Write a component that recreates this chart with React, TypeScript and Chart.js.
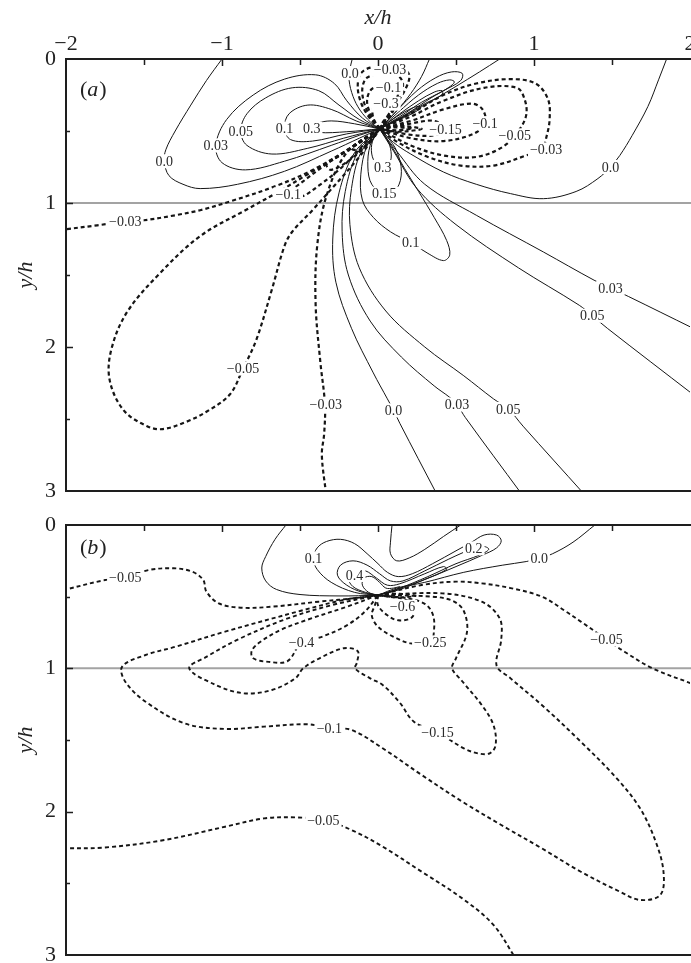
import React, { useEffect, useRef } from "react";
import { Chart, registerables } from "chart.js";

Chart.register(...registerables);

type Pt = [number, number];
type Lab = [string, number, number];

const FONT = '"Liberation Serif", "Times New Roman", Times, serif';
const M = "\u2212";

// ---------- axes ----------
const X_MIN = -2;
const X_MAX = 2;
const Y_MIN = 0;
const Y_MAX = 3;
const X_TICK_MARKS = [-1.5, -1, -0.5, 0, 0.5, 1, 1.5];
const Y_TICK_MARKS = [0.5, 1, 1.5, 2, 2.5];
const WALL_Y = 1;

// ---------- panel (a) contours  [x/h, y/h] ----------
const A_ZERO_TOP: Pt[] = [[0.01, 0.485], [-0.05, 0.436], [-0.115, 0.355], [-0.16, 0.26], [-0.185, 0.15], [-0.18, 0.07], [-0.165, 0.0]];
const A_ZERO_LEFT: Pt[] = [[-1.0, 0.0], [-1.1, 0.15], [-1.2, 0.32], [-1.3, 0.5], [-1.36, 0.63], [-1.37, 0.71], [-1.34, 0.81], [-1.25, 0.87], [-1.14, 0.9], [-0.9, 0.87], [-0.6, 0.78], [-0.3, 0.64], [-0.12, 0.55], [0.01, 0.485]];
const A_P003_L: Pt[] = [[0.01, 0.485], [-0.1, 0.41], [-0.2, 0.29], [-0.28, 0.17], [-0.4, 0.11], [-0.6, 0.14], [-0.8, 0.25], [-0.97, 0.42], [-1.04, 0.6], [-1.0, 0.72], [-0.85, 0.77], [-0.6, 0.71], [-0.3, 0.6], [-0.12, 0.53], [0.01, 0.485]];
const A_P005_L: Pt[] = [[0.01, 0.485], [-0.12, 0.42], [-0.25, 0.32], [-0.38, 0.22], [-0.55, 0.2], [-0.72, 0.27], [-0.84, 0.38], [-0.88, 0.5], [-0.84, 0.6], [-0.68, 0.66], [-0.45, 0.62], [-0.22, 0.55], [0.01, 0.485]];
const A_P01_L: Pt[] = [[0.01, 0.485], [-0.14, 0.43], [-0.3, 0.35], [-0.45, 0.32], [-0.57, 0.38], [-0.6, 0.483], [-0.56, 0.56], [-0.42, 0.57], [-0.2, 0.52], [0.01, 0.485]];
const A_P03_L: Pt[] = [[0.01, 0.485], [-0.15, 0.45], [-0.3, 0.43], [-0.4, 0.45], [-0.425, 0.483], [-0.38, 0.51], [-0.2, 0.505], [0.01, 0.485]];

const A_N003_T: Pt[] = [[0.01, 0.485], [-0.06, 0.4], [-0.11, 0.3], [-0.13, 0.19], [-0.11, 0.1], [-0.05, 0.06], [0.05, 0.05], [0.15, 0.06], [0.2, 0.11], [0.18, 0.2], [0.12, 0.31], [0.06, 0.42], [0.01, 0.485]];
const A_N005_T: Pt[] = [[0.01, 0.485], [-0.05, 0.4], [-0.09, 0.3], [-0.1, 0.2], [-0.07, 0.13], [0.03, 0.1], [0.12, 0.11], [0.16, 0.17], [0.14, 0.26], [0.09, 0.36], [0.03, 0.44], [0.01, 0.485]];
const A_N01_T: Pt[] = [[0.01, 0.485], [-0.04, 0.4], [-0.07, 0.3], [-0.05, 0.22], [0.0, 0.19], [0.11, 0.19], [0.13, 0.23], [0.11, 0.3], [0.06, 0.4], [0.01, 0.485]];
const A_N03_T: Pt[] = [[0.01, 0.485], [-0.03, 0.41], [-0.03, 0.34], [0.02, 0.31], [0.09, 0.31], [0.1, 0.35], [0.06, 0.42], [0.01, 0.485]];

const A_ZERO_UR1: Pt[] = [[0.33, 0.0], [0.28, 0.12], [0.21, 0.24], [0.12, 0.36], [0.01, 0.485]];
const A_ZERO_UR2: Pt[] = [[0.78, 0.0], [0.65, 0.09], [0.5, 0.19], [0.33, 0.3], [0.15, 0.41], [0.01, 0.485]];
const A_P003_UR: Pt[] = [[0.01, 0.485], [0.12, 0.36], [0.25, 0.22], [0.37, 0.13], [0.47, 0.09], [0.54, 0.1], [0.53, 0.15], [0.42, 0.22], [0.28, 0.3], [0.14, 0.4], [0.01, 0.485]];
const A_P005_UR: Pt[] = [[0.01, 0.485], [0.13, 0.37], [0.26, 0.25], [0.38, 0.17], [0.46, 0.145], [0.49, 0.16], [0.45, 0.2], [0.34, 0.27], [0.2, 0.37], [0.01, 0.485]];
const A_P01_UR: Pt[] = [[0.01, 0.485], [0.14, 0.38], [0.26, 0.29], [0.36, 0.23], [0.41, 0.22], [0.41, 0.25], [0.3, 0.31], [0.16, 0.4], [0.01, 0.485]];
const A_P03_UR: Pt[] = [[0.01, 0.485], [0.12, 0.4], [0.22, 0.34], [0.27, 0.33], [0.25, 0.36], [0.14, 0.42], [0.01, 0.485]];

const A_N003_R: Pt[] = [[0.01, 0.485], [0.21, 0.38], [0.42, 0.25], [0.63, 0.17], [0.85, 0.14], [1.01, 0.17], [1.09, 0.28], [1.1, 0.42], [1.08, 0.54], [1.05, 0.63], [0.95, 0.67], [0.74, 0.74], [0.53, 0.74], [0.32, 0.68], [0.13, 0.58], [0.01, 0.485]];
const A_N005_R: Pt[] = [[0.01, 0.485], [0.21, 0.4], [0.42, 0.29], [0.68, 0.2], [0.89, 0.2], [0.94, 0.28], [0.95, 0.39], [0.9, 0.5], [0.8, 0.61], [0.63, 0.68], [0.42, 0.67], [0.21, 0.6], [0.01, 0.485]];
const A_N01_R: Pt[] = [[0.01, 0.485], [0.21, 0.43], [0.42, 0.35], [0.6, 0.31], [0.67, 0.35], [0.687, 0.446], [0.61, 0.52], [0.42, 0.57], [0.21, 0.55], [0.01, 0.485]];
const A_N015_R: Pt[] = [[0.01, 0.485], [0.2, 0.45], [0.36, 0.43], [0.433, 0.485], [0.36, 0.53], [0.2, 0.525], [0.01, 0.485]];
const A_N03_R: Pt[] = [[0.01, 0.485], [0.12, 0.465], [0.24, 0.475], [0.28, 0.485], [0.24, 0.495], [0.12, 0.505], [0.01, 0.485]];
const A_N05_R: Pt[] = [[0.01, 0.485], [0.12, 0.475], [0.22, 0.482], [0.12, 0.495], [0.01, 0.485]];

const A_ZERO_R: Pt[] = [[1.85, 0.0], [1.8, 0.14], [1.73, 0.33], [1.63, 0.53], [1.55, 0.67], [1.49, 0.75], [1.41, 0.83], [1.27, 0.92], [1.06, 0.97], [0.85, 0.935], [0.63, 0.87], [0.42, 0.785], [0.21, 0.66], [0.1, 0.58], [0.01, 0.485]];
const A_P003_RT: Pt[] = [[0.01, 0.485], [0.12, 0.64], [0.3, 0.87], [0.63, 1.085], [1.06, 1.34], [1.385, 1.536], [1.49, 1.59], [1.607, 1.65], [2.02, 1.87]];
const A_P005_RT: Pt[] = [[0.01, 0.485], [0.1, 0.64], [0.25, 0.9], [0.5, 1.15], [0.9, 1.45], [1.29, 1.71], [1.374, 1.783], [1.47, 1.87], [2.02, 2.33]];
const A_P01_LOW: Pt[] = [[0.01, 0.485], [-0.07, 0.6], [-0.11, 0.8], [-0.1, 0.98], [-0.03, 1.1], [0.08, 1.2], [0.21, 1.275], [0.32, 1.35], [0.42, 1.4], [0.46, 1.36], [0.44, 1.26], [0.36, 1.1], [0.26, 0.92], [0.17, 0.76], [0.09, 0.61], [0.01, 0.485]];
const A_P015_LOW: Pt[] = [[0.01, 0.485], [-0.05, 0.6], [-0.065, 0.75], [-0.04, 0.87], [0.04, 0.935], [0.12, 0.9], [0.15, 0.78], [0.12, 0.64], [0.06, 0.54], [0.01, 0.485]];
const A_P03_LOW: Pt[] = [[0.01, 0.485], [-0.035, 0.57], [-0.04, 0.66], [-0.01, 0.73], [0.04, 0.75], [0.08, 0.71], [0.08, 0.62], [0.05, 0.54], [0.01, 0.485]];

const A_P005_BT: Pt[] = [[0.01, 0.485], [-0.11, 0.65], [-0.17, 0.9], [-0.18, 1.15], [-0.12, 1.45], [0.05, 1.75], [0.3, 2.0], [0.55, 2.2], [0.74, 2.36], [0.835, 2.43], [0.93, 2.55], [1.32, 3.02]];
const A_P003_BT: Pt[] = [[0.01, 0.485], [-0.13, 0.65], [-0.21, 0.92], [-0.23, 1.2], [-0.19, 1.5], [-0.05, 1.82], [0.15, 2.07], [0.36, 2.27], [0.46, 2.35], [0.507, 2.4], [0.56, 2.49], [0.92, 3.02]];
const A_ZERO_BT: Pt[] = [[0.01, 0.485], [-0.15, 0.65], [-0.25, 0.93], [-0.29, 1.25], [-0.27, 1.55], [-0.17, 1.87], [-0.03, 2.18], [0.06, 2.36], [0.1, 2.44], [0.14, 2.53], [0.376, 3.02]];
const A_N003_BT: Pt[] = [[0.01, 0.485], [-0.2, 0.65], [-0.33, 0.95], [-0.39, 1.3], [-0.4, 1.7], [-0.37, 2.1], [-0.34, 2.4], [-0.345, 2.6], [-0.36, 2.75], [-0.333, 3.02]];
const A_N003_L: Pt[] = [[0.01, 0.485], [-0.15, 0.6], [-0.4, 0.76], [-0.65, 0.88], [-0.95, 0.99], [-1.14, 1.05], [-1.3, 1.085], [-1.5, 1.12], [-1.62, 1.13], [-1.8, 1.155], [-2.02, 1.185]];
const A_N005_LOOP: Pt[] = [[0.01, 0.485], [-0.2, 0.64], [-0.45, 0.8], [-0.65, 0.93], [-0.85, 1.05], [-1.14, 1.23], [-1.4, 1.49], [-1.61, 1.76], [-1.71, 2.02], [-1.72, 2.23], [-1.63, 2.44], [-1.48, 2.55], [-1.38, 2.57], [-1.23, 2.52], [-1.1, 2.45], [-0.95, 2.33], [-0.865, 2.15], [-0.78, 1.95], [-0.68, 1.6], [-0.6, 1.3], [-0.55, 1.2], [-0.42, 1.05], [-0.28, 0.88], [-0.12, 0.68], [0.01, 0.485]];
const A_N01_LOOP: Pt[] = [[0.01, 0.485], [-0.15, 0.6], [-0.33, 0.73], [-0.48, 0.85], [-0.575, 0.94], [-0.5, 0.96], [-0.38, 0.88], [-0.22, 0.74], [-0.08, 0.58], [0.01, 0.485]];
const A_N015_LL: Pt[] = [[0.01, 0.485], [-0.12, 0.58], [-0.25, 0.67], [-0.33, 0.73], [-0.3, 0.77], [-0.18, 0.7], [-0.06, 0.58], [0.01, 0.485]];
const A_N03_LL: Pt[] = [[0.01, 0.485], [-0.1, 0.56], [-0.17, 0.62], [-0.12, 0.63], [-0.03, 0.55], [0.01, 0.485]];

const PANEL_A_LINES: [number, Pt[]][] = [
  [0, A_ZERO_TOP], [0, A_ZERO_LEFT], [0.03, A_P003_L], [0.05, A_P005_L], [0.1, A_P01_L], [0.3, A_P03_L],
  [-0.03, A_N003_T], [-0.05, A_N005_T], [-0.1, A_N01_T], [-0.3, A_N03_T],
  [0, A_ZERO_UR1], [0, A_ZERO_UR2], [0.03, A_P003_UR], [0.05, A_P005_UR], [0.1, A_P01_UR], [0.3, A_P03_UR],
  [-0.03, A_N003_R], [-0.05, A_N005_R], [-0.1, A_N01_R], [-0.15, A_N015_R], [-0.3, A_N03_R], [-0.5, A_N05_R],
  [0, A_ZERO_R], [0.03, A_P003_RT], [0.05, A_P005_RT], [0.1, A_P01_LOW], [0.15, A_P015_LOW], [0.3, A_P03_LOW],
  [0.05, A_P005_BT], [0.03, A_P003_BT], [0, A_ZERO_BT], [-0.03, A_N003_BT], [-0.03, A_N003_L],
  [-0.05, A_N005_LOOP], [-0.1, A_N01_LOOP], [-0.15, A_N015_LL], [-0.3, A_N03_LL],
];

const PANEL_A_LABELS: Lab[] = [
  ["0.0", -0.18, 0.097], [M + "0.03", 0.077, 0.074], [M + "0.1", 0.067, 0.199], [M + "0.3", 0.051, 0.31],
  ["0.05", -0.88, 0.5], ["0.1", -0.6, 0.483], ["0.3", -0.425, 0.483], ["0.03", -1.04, 0.6], ["0.0", -1.37, 0.71],
  [M + "0.15", 0.433, 0.485], [M + "0.1", 0.687, 0.446], [M + "0.05", 0.877, 0.53], [M + "0.03", 1.078, 0.628],
  ["0.0", 1.49, 0.75], ["0.3", 0.03, 0.75], ["0.15", 0.04, 0.935], [M + "0.1", -0.575, 0.94], [M + "0.03", -1.62, 1.13],
  ["0.1", 0.21, 1.275], ["0.03", 1.49, 1.59], ["0.05", 1.374, 1.783], [M + "0.05", -0.865, 2.15],
  [M + "0.03", -0.335, 2.4], ["0.0", 0.1, 2.44], ["0.03", 0.507, 2.4], ["0.05", 0.835, 2.43],
];
const PANEL_A_TAG: Lab = ["a", -1.91, 0.22];

// ---------- panel (b) contours ----------
const B_ZERO_L: Pt[] = [[-0.59, 0.0], [-0.66, 0.1], [-0.72, 0.22], [-0.745, 0.3], [-0.72, 0.39], [-0.65, 0.45], [-0.5, 0.485], [-0.25, 0.495], [0.0, 0.49]];
const B_ZERO_R: Pt[] = [[0.0, 0.49], [0.12, 0.44], [0.3, 0.4], [0.55, 0.33], [0.8, 0.28], [0.95, 0.255], [1.033, 0.233], [1.12, 0.2], [1.25, 0.12], [1.39, 0.0]];
const B_POS_U: Pt[] = [[0.09, 0.0], [0.08, 0.12], [0.08, 0.2], [0.12, 0.25], [0.2, 0.23], [0.3, 0.17], [0.42, 0.08], [0.53, 0.0]];
const B_P01: Pt[] = [[0.0, 0.49], [-0.15, 0.47], [-0.3, 0.4], [-0.39, 0.31], [-0.414, 0.233], [-0.39, 0.16], [-0.33, 0.115], [-0.24, 0.1], [-0.15, 0.13], [-0.07, 0.2], [0.0, 0.27], [0.06, 0.33], [0.13, 0.36], [0.22, 0.34], [0.35, 0.27], [0.5, 0.18], [0.6, 0.12], [0.68, 0.07], [0.76, 0.07], [0.79, 0.11], [0.76, 0.16], [0.67, 0.21], [0.5, 0.29], [0.3, 0.38], [0.12, 0.45], [0.0, 0.49]];
const B_P02: Pt[] = [[0.0, 0.49], [-0.1, 0.47], [-0.2, 0.42], [-0.26, 0.35], [-0.24, 0.28], [-0.16, 0.25], [-0.07, 0.28], [0.01, 0.34], [0.08, 0.39], [0.16, 0.39], [0.3, 0.32], [0.45, 0.24], [0.55, 0.19], [0.614, 0.163], [0.68, 0.15], [0.71, 0.17], [0.65, 0.21], [0.5, 0.27], [0.32, 0.36], [0.14, 0.44], [0.0, 0.49]];
const B_P03: Pt[] = [[0.0, 0.49], [-0.08, 0.47], [-0.16, 0.43], [-0.19, 0.37], [-0.15, 0.32], [-0.08, 0.32], [-0.01, 0.37], [0.06, 0.42], [0.14, 0.41], [0.3, 0.34], [0.42, 0.29], [0.44, 0.31], [0.3, 0.38], [0.14, 0.45], [0.0, 0.49]];
const B_P04: Pt[] = [[0.0, 0.49], [-0.06, 0.47], [-0.1, 0.42], [-0.09, 0.37], [-0.04, 0.36], [0.01, 0.4], [0.05, 0.44], [0.1, 0.44], [0.14, 0.43], [0.1, 0.46], [0.0, 0.49]];

const B_N005_UL: Pt[] = [[-2.02, 0.455], [-1.75, 0.384], [-1.62, 0.367], [-1.47, 0.314], [-1.31, 0.302], [-1.19, 0.326], [-1.12, 0.384], [-1.1, 0.465], [-1.02, 0.547], [-0.88, 0.577], [-0.68, 0.57], [-0.38, 0.535], [-0.12, 0.507], [0.0, 0.49]];
const B_N005_R: Pt[] = [[0.0, 0.49], [0.28, 0.419], [0.5, 0.395], [0.665, 0.407], [0.85, 0.44], [1.05, 0.5], [1.2, 0.6], [1.3, 0.674], [1.465, 0.798], [1.58, 0.884], [1.76, 1.0], [2.02, 1.11]];
const B_N01_LOOP: Pt[] = [[0.0, 0.49], [-0.22, 0.523], [-0.5, 0.6], [-0.98, 0.744], [-1.3, 0.85], [-1.49, 0.907], [-1.64, 0.988], [-1.62, 1.093], [-1.49, 1.233], [-1.24, 1.384], [-0.98, 1.423], [-0.73, 1.407], [-0.45, 1.39], [-0.312, 1.419], [-0.17, 1.43], [0.03, 1.558], [0.28, 1.744], [0.54, 1.93], [0.79, 2.093], [1.05, 2.256], [1.3, 2.419], [1.55, 2.558], [1.68, 2.616], [1.81, 2.581], [1.83, 2.419], [1.78, 2.209], [1.68, 1.977], [1.53, 1.767], [1.3, 1.512], [1.05, 1.256], [0.85, 1.07], [0.76, 0.98], [0.79, 0.8], [0.78, 0.651], [0.665, 0.535], [0.41, 0.477], [0.0, 0.49]];
const B_N005_LOW: Pt[] = [[-2.02, 2.256], [-1.75, 2.25], [-1.37, 2.198], [-0.98, 2.105], [-0.73, 2.047], [-0.53, 2.04], [-0.35, 2.058], [-0.17, 2.128], [0.03, 2.244], [0.28, 2.419], [0.54, 2.605], [0.74, 2.79], [0.88, 3.02]];
const B_N015: Pt[] = [[0.0, 0.49], [-0.3, 0.56], [-0.6, 0.66], [-0.9, 0.8], [-1.1, 0.92], [-1.21, 1.0], [-1.04, 1.116], [-0.86, 1.174], [-0.68, 1.151], [-0.53, 1.07], [-0.48, 1.0], [-0.375, 0.93], [-0.22, 0.86], [-0.13, 0.88], [-0.135, 0.96], [-0.147, 1.0], [-0.05, 1.07], [0.03, 1.116], [0.14, 1.24], [0.23, 1.372], [0.381, 1.447], [0.55, 1.558], [0.64, 1.593], [0.716, 1.593], [0.754, 1.535], [0.74, 1.395], [0.665, 1.256], [0.54, 1.09], [0.475, 1.0], [0.5, 0.93], [0.57, 0.75], [0.55, 0.6], [0.48, 0.53], [0.35, 0.5], [0.0, 0.49]];
const B_N025: Pt[] = [[0.0, 0.49], [-0.02, 0.56], [-0.04, 0.63], [0.0, 0.71], [0.1, 0.78], [0.21, 0.826], [0.335, 0.819], [0.36, 0.72], [0.35, 0.62], [0.3, 0.55], [0.18, 0.51], [0.0, 0.49]];
const B_N04: Pt[] = [[0.0, 0.49], [-0.2, 0.57], [-0.45, 0.66], [-0.62, 0.73], [-0.76, 0.82], [-0.81, 0.88], [-0.8, 0.93], [-0.7, 0.955], [-0.58, 0.95], [-0.49, 0.819], [-0.36, 0.78], [-0.2, 0.7], [-0.08, 0.6], [0.0, 0.49]];
const B_N06: Pt[] = [[0.0, 0.49], [0.0, 0.56], [0.06, 0.63], [0.13, 0.665], [0.21, 0.65], [0.235, 0.6], [0.2, 0.53], [0.0, 0.49]];
const B_N10: Pt[] = [[0.0, 0.49], [0.1, 0.48], [0.2, 0.485], [0.24, 0.495], [0.12, 0.505], [0.0, 0.49]];

const PANEL_B_LINES: [number, Pt[]][] = [
  [0, B_ZERO_L], [0, B_ZERO_R], [0.1, B_POS_U], [0.1, B_P01], [0.2, B_P02], [0.3, B_P03], [0.4, B_P04],
  [-0.05, B_N005_UL], [-0.05, B_N005_R], [-0.1, B_N01_LOOP], [-0.05, B_N005_LOW], [-0.15, B_N015],
  [-0.25, B_N025], [-0.4, B_N04], [-0.6, B_N06], [-1.0, B_N10],
];

const PANEL_B_LABELS: Lab[] = [
  ["0.1", -0.414, 0.233], ["0.2", 0.614, 0.163], ["0.0", 1.033, 0.233], ["0.4", -0.15, 0.349],
  [M + "0.05", -1.62, 0.367], [M + "0.6", 0.157, 0.57], [M + "0.25", 0.335, 0.819], [M + "0.4", -0.49, 0.819],
  [M + "0.05", 1.465, 0.798], [M + "0.1", -0.312, 1.419], [M + "0.15", 0.381, 1.447], [M + "0.05", -0.35, 2.058],
];
const PANEL_B_TAG: Lab = ["b", -1.91, 0.16];

// ---------- drawing ----------
function fmtTick(v: any) {
  const n = Number(v);
  if (!Number.isInteger(n)) return "";
  return n < 0 ? M + Math.abs(n) : String(n);
}

function makeDecor(labels: Lab[], tag: Lab) {
  return {
    id: "decor",
    beforeDatasetsDraw(chart: any) {
      const { ctx, chartArea: ca, scales } = chart;
      const gy = scales.y.getPixelForValue(WALL_Y);
      ctx.save();
      ctx.strokeStyle = "#a3a3a3";
      ctx.lineWidth = 2;
      ctx.beginPath();
      ctx.moveTo(ca.left, gy);
      ctx.lineTo(ca.right + 12, gy);
      ctx.stroke();
      ctx.restore();
    },
    afterDatasetsDraw(chart: any) {
      const { ctx, chartArea: ca, scales } = chart;
      const xs = scales.x;
      const ys = scales.y;
      ctx.save();
      ctx.font = `14px ${FONT}`;
      ctx.textAlign = "center";
      ctx.textBaseline = "middle";
      for (const [t, lx, ly] of labels) {
        const px = xs.getPixelForValue(lx);
        const py = ys.getPixelForValue(ly);
        const w = ctx.measureText(t).width;
        ctx.fillStyle = "#fff";
        ctx.fillRect(px - w / 2 - 2, py - 7, w + 4, 14);
        ctx.fillStyle = "#2a2a2a";
        ctx.fillText(t, px, py + 1);
      }
      // panel tag (a)/(b)
      const tx = xs.getPixelForValue(tag[1]);
      const ty = ys.getPixelForValue(tag[2]);
      ctx.textAlign = "left";
      ctx.fillStyle = "#222";
      ctx.font = `22px ${FONT}`;
      const w1 = ctx.measureText("(").width;
      ctx.fillText("(", tx, ty);
      ctx.font = `italic 22px ${FONT}`;
      const w2 = ctx.measureText(tag[0]).width;
      ctx.fillText(tag[0], tx + w1, ty);
      ctx.font = `22px ${FONT}`;
      ctx.fillText(")", tx + w1 + w2 + 1, ty);
      // frame
      ctx.strokeStyle = "#1e1e1e";
      ctx.lineWidth = 2;
      ctx.beginPath();
      ctx.moveTo(ca.right + 12, ca.top);
      ctx.lineTo(ca.left, ca.top);
      ctx.lineTo(ca.left, ca.bottom);
      ctx.lineTo(ca.right + 12, ca.bottom);
      ctx.stroke();
      // inside tick marks
      ctx.lineWidth = 1.5;
      ctx.beginPath();
      for (const v of X_TICK_MARKS) {
        const px = Math.round(xs.getPixelForValue(v)) + 0.5;
        const len = Number.isInteger(v) ? 7 : 6;
        ctx.moveTo(px, ca.top);
        ctx.lineTo(px, ca.top + len);
      }
      for (const v of Y_TICK_MARKS) {
        const py = Math.round(ys.getPixelForValue(v)) + 0.5;
        const len = Number.isInteger(v) ? 7 : 4;
        ctx.moveTo(ca.left, py);
        ctx.lineTo(ca.left + len, py);
      }
      ctx.stroke();
      ctx.restore();
    },
  };
}

function makeConfig(lines: [number, Pt[]][], labels: Lab[], tag: Lab, showTop: boolean, topH: number, padBottom: number, dashW: number): any {
  const datasets = lines.map(([lvl, pts]) => ({
    data: pts.map(([x, y]) => ({ x, y })),
    showLine: true,
    pointRadius: 0,
    pointHoverRadius: 0,
    borderColor: "#151515",
    borderWidth: lvl < 0 ? dashW : 1,
    borderDash: lvl < 0 ? [4, 3] : [],
    tension: 0.35,
    fill: false,
  }));
  return {
    type: "scatter",
    data: { datasets },
    options: {
      responsive: false,
      animation: false,
      devicePixelRatio: 1,
      events: [],
      layout: { padding: { top: 0, right: 10, bottom: padBottom, left: 0 } },
      plugins: { legend: { display: false }, tooltip: { enabled: false } },
      scales: {
        x: {
          type: "linear",
          position: "top",
          min: X_MIN,
          max: X_MAX,
          afterFit: (s: any) => { s.height = topH; },
          grid: { display: false, drawTicks: false },
          border: { display: false },
          ticks: {
            display: showTop,
            stepSize: 1,
            autoSkip: false,
            maxRotation: 0,
            padding: 2,
            color: "#222",
            font: { family: FONT, size: 22 },
            callback: fmtTick,
          },
          title: {
            display: showTop,
            text: "x/h",
            color: "#222",
            font: { family: FONT, size: 22, style: "italic" },
            padding: { top: 5, bottom: 0 },
          },
        },
        y: {
          type: "linear",
          position: "left",
          min: Y_MIN,
          max: Y_MAX,
          reverse: true,
          afterFit: (s: any) => { s.width = 66; },
          grid: { display: false, drawTicks: false },
          border: { display: false },
          ticks: {
            stepSize: 1,
            padding: 10,
            color: "#222",
            font: { family: FONT, size: 22 },
            callback: fmtTick,
          },
          title: {
            display: true,
            text: "y/h",
            color: "#222",
            font: { family: FONT, size: 22, style: "italic" },
            padding: { top: 13, bottom: 0 },
          },
        },
      },
    },
    plugins: [makeDecor(labels, tag)],
  };
}

export default function App() {
  const refA = useRef<HTMLCanvasElement | null>(null);
  const refB = useRef<HTMLCanvasElement | null>(null);

  useEffect(() => {
    const a = new Chart(refA.current as HTMLCanvasElement, makeConfig(PANEL_A_LINES, PANEL_A_LABELS, PANEL_A_TAG, true, 59, 29, 2.2));
    const b = new Chart(refB.current as HTMLCanvasElement, makeConfig(PANEL_B_LINES, PANEL_B_LABELS, PANEL_B_TAG, false, 45, 25, 1.9));
    return () => {
      a.destroy();
      b.destroy();
    };
  }, []);

  return (
    <div style={{ position: "fixed", left: 0, top: 0, width: 691, height: 963, overflow: "hidden", background: "#fff" }}>
      <canvas ref={refA} width={700} height={520} style={{ position: "absolute", left: 0, top: 0 }} />
      <canvas ref={refB} width={700} height={500} style={{ position: "absolute", left: 0, top: 480 }} />
    </div>
  );
}
